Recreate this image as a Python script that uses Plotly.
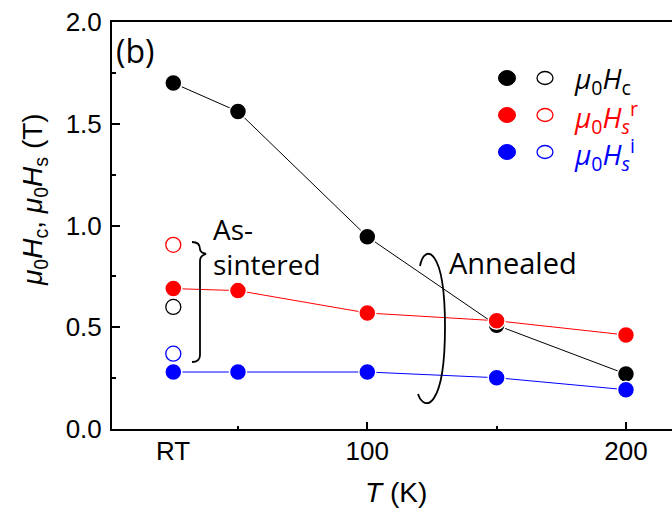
import plotly.graph_objects as go

# ---------------- data ----------------
T_vals = [25, 50, 100, 150, 200]          # RT plotted at 25
Hc_annealed = [1.70, 1.56, 0.945, 0.51, 0.27]
Hsr_annealed = [0.69, 0.68, 0.57, 0.532, 0.462]
Hsi_annealed = [0.28, 0.28, 0.28, 0.252, 0.193]

T_rt = [25]
Hc_sintered = [0.60]
Hsr_sintered = [0.905]
Hsi_sintered = [0.37]

x_tickvals = [100, 200]
x_ticktext = ["100", "200"]
rt_label = "RT"
y_tickvals = [0.0, 0.5, 1.0, 1.5, 2.0]

BLACK, RED, BLUE = "#000000", "#FF0000", "#0000FF"

# plot area in pixels (for decoration placement)
W, H = 672, 519
PX0, PX1, PY0, PY1 = 112, 672, 429, 22


def px(x):
    return (x - PX0) / (PX1 - PX0)


def py(y):
    return (PY0 - y) / (PY0 - PY1)


fig = go.Figure()

for yv, col in [(Hc_annealed, BLACK), (Hsr_annealed, RED), (Hsi_annealed, BLUE)]:
    fig.add_trace(go.Scatter(
        x=T_vals, y=yv, mode="lines+markers",
        line=dict(color=col, width=1),
        marker=dict(size=17, color=col, line=dict(color="white", width=1.5)),
        showlegend=False, cliponaxis=False))

for yv, col in [(Hc_sintered, BLACK), (Hsr_sintered, RED), (Hsi_sintered, BLUE)]:
    fig.add_trace(go.Scatter(
        x=T_rt, y=yv, mode="markers",
        marker=dict(size=15, color="white", line=dict(color=col, width=1.3)),
        showlegend=False, cliponaxis=False))

font_tick = dict(family="Liberation Sans", size=26, color="black")
font_cal = "Open Sans"

shapes = []
annotations = []

# legend rows (filled, open, text)
legend_rows = [
    (78, BLACK, "<i>μ</i><sub>0</sub><i>H</i><sub>c</sub>"),
    (115, RED, "<i>μ</i><sub>0</sub><i>H<sub>s</sub></i><sup>r</sup>"),
    (152, BLUE, "<i>μ</i><sub>0</sub><i>H<sub>s</sub></i><sup>i</sup>"),
]
for yy, col, txt in legend_rows:
    shapes.append(dict(type="circle", xref="paper", yref="paper",
                       xsizemode="pixel", ysizemode="pixel",
                       xanchor=px(507), yanchor=py(yy),
                       x0=-8.5, x1=8.5, y0=-7.5, y1=7.5,
                       fillcolor=col, line=dict(color=col, width=1)))
    shapes.append(dict(type="circle", xref="paper", yref="paper",
                       xsizemode="pixel", ysizemode="pixel",
                       xanchor=px(545), yanchor=py(yy),
                       x0=-8, x1=8, y0=-6.5, y1=6.5,
                       fillcolor="white", line=dict(color=col, width=1.3)))
    annotations.append(dict(xref="paper", yref="paper", x=px(572), y=py(yy + 2),
                            text=txt, showarrow=False, xanchor="left", yanchor="middle",
                            font=dict(family=font_cal, size=28, color=col)))

# As-sintered brace
p = lambda x, y: f"{px(x):.5f},{py(y):.5f}"
brace = (f"M {p(192,242)} C {p(198,242)} {p(200,245)} {p(200,249)} "
         f"C {p(200,252)} {p(202,253)} {p(206,254)} "
         f"C {p(202,255)} {p(200,257)} {p(200,261)} "
         f"L {p(200,355)} C {p(200,360)} {p(197,362)} {p(192,362)}")
shapes.append(dict(type="path", xref="paper", yref="paper", path=brace,
                   line=dict(color="black", width=1.8)))

# Annealed bracket
paren = (f"M {p(420,266)} C {p(424,244)} {p(445,245)} {p(445,327)} "
         f"C {p(445,410)} {p(424,412)} {p(418,394)}")
shapes.append(dict(type="path", xref="paper", yref="paper", path=paren,
                   line=dict(color="black", width=1.8)))

annotations += [
    dict(xref="paper", yref="paper", x=px(114), y=py(51), text="(b)",
         showarrow=False, xanchor="left", yanchor="middle",
         font=dict(family=font_cal, size=32, color="black")),
    dict(xref="paper", yref="paper", x=px(211), y=py(229), text="As-",
         showarrow=False, xanchor="left", yanchor="middle",
         font=dict(family=font_cal, size=28, color="black")),
    dict(xref="paper", yref="paper", x=px(211), y=py(264), text="sintered",
         showarrow=False, xanchor="left", yanchor="middle",
         font=dict(family=font_cal, size=28, color="black")),
    dict(xref="paper", yref="paper", x=px(447), y=py(262), text="Annealed",
         showarrow=False, xanchor="left", yanchor="middle",
         font=dict(family=font_cal, size=29, color="black")),
    dict(xref="x", yref="paper", x=T_rt[0], y=py(451), text=rt_label,
         showarrow=False, xanchor="center", yanchor="middle", font=font_tick),
    dict(xref="paper", yref="paper", x=px(396), y=py(492),
         text="<i>T</i> (K)", showarrow=False, xanchor="center", yanchor="middle",
         font=dict(family="Liberation Sans", size=28, color="black")),
    dict(xref="paper", yref="paper", x=px(35), y=py(200),
         text="<i>μ</i><sub>0</sub><i>H</i><sub>c</sub>, <i>μ</i><sub>0</sub><i>H</i><sub>s</sub> (T)",
         textangle=-90, showarrow=False, xanchor="center", yanchor="middle",
         font=dict(family="Liberation Sans", size=28, color="black")),
]

fig.update_layout(
    width=W, height=H,
    margin=dict(l=PX0, r=W - PX1, t=PY1, b=H - PY0, pad=0),
    paper_bgcolor="white", plot_bgcolor="white",
    shapes=shapes, annotations=annotations,
    xaxis=dict(range=[1.3, 217.8], tickvals=x_tickvals, ticktext=x_ticktext,
               ticks="inside", ticklen=7, tickwidth=1.5, tickcolor="black",
               minor=dict(tickvals=[50, 150], ticks="inside", ticklen=3,
                          tickwidth=1.5, tickcolor="black"),
               showline=True, linecolor="black", linewidth=2, mirror=True,
               showgrid=False, zeroline=False, tickfont=font_tick,
               ticklabelstandoff=-2),
    yaxis=dict(range=[0, 2.0], tickvals=y_tickvals, tickformat=".1f",
               ticks="inside", ticklen=8, tickwidth=1.5, tickcolor="black",
               minor=dict(dtick=0.25, tick0=0, ticks="inside", ticklen=4,
                          tickwidth=1.5, tickcolor="black"),
               showline=True, linecolor="black", linewidth=2, mirror=False,
               showgrid=False, zeroline=False, tickfont=font_tick,
               ticklabelstandoff=3),
)

fig.write_html("out.html")
